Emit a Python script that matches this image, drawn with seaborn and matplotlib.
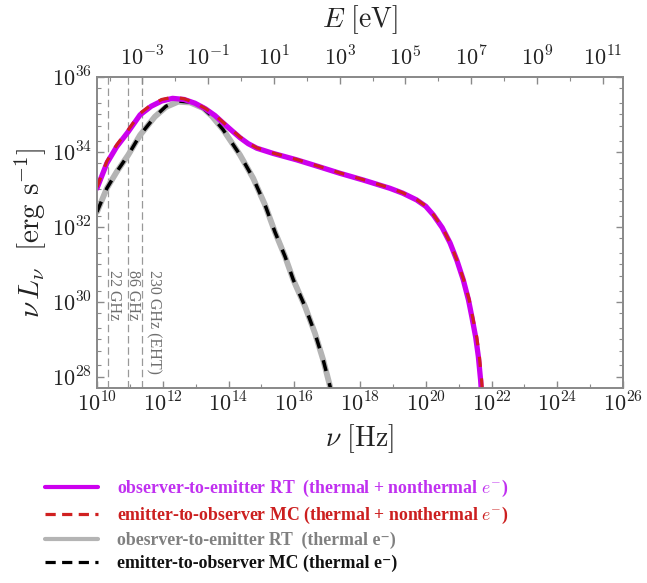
import numpy as np
import pandas as pd
import matplotlib
matplotlib.use("Agg")
import matplotlib.pyplot as plt
import seaborn as sns
from matplotlib.ticker import FixedLocator, FuncFormatter, NullFormatter
from matplotlib.lines import Line2D

# ---------------- data (log10 values) ----------------
# thermal + nonthermal, observer-to-emitter RT
tn_rt_lognu = [10.00, 10.30, 10.60, 10.95, 11.31, 11.65, 11.97, 12.30, 12.65, 12.98,
               13.30, 13.59, 13.84, 14.10, 14.35, 14.60, 14.86, 15.36, 16.07, 16.70,
               17.39, 18.10, 18.91, 19.30, 19.72, 20.00, 20.23, 20.50, 20.74, 20.95,
               21.14, 21.30, 21.40, 21.52, 21.60, 21.67, 21.70]
tn_rt_logL = [33.03, 33.70, 34.14, 34.54, 34.99, 35.22, 35.36, 35.43, 35.40, 35.30,
              35.15, 34.97, 34.77, 34.57, 34.38, 34.22, 34.10, 33.96, 33.79, 33.62,
              33.43, 33.25, 33.03, 32.90, 32.72, 32.55, 32.32, 31.98, 31.57, 31.10,
              30.59, 30.05, 29.61, 29.05, 28.54, 27.90, 27.50]
# thermal + nonthermal, emitter-to-observer MC
tn_mc_lognu = [10.00, 10.30, 10.60, 10.95, 11.31, 11.65, 11.97, 12.30, 12.65, 12.98,
               13.30, 13.59, 13.84, 14.10, 14.35, 14.60, 14.86, 15.36, 16.07, 16.70,
               17.39, 18.10, 18.91, 19.30, 19.72, 20.00, 20.23, 20.50, 20.74, 20.95,
               21.15, 21.32, 21.42, 21.55, 21.63, 21.70, 21.73]
tn_mc_logL = [33.06, 33.75, 34.19, 34.59, 35.03, 35.26, 35.40, 35.46, 35.42, 35.31,
              35.16, 34.98, 34.79, 34.59, 34.40, 34.24, 34.11, 33.97, 33.80, 33.63,
              33.44, 33.26, 33.04, 32.91, 32.73, 32.56, 32.33, 31.99, 31.58, 31.11,
              30.60, 30.06, 29.62, 29.06, 28.55, 27.90, 27.50]
# thermal only, observer-to-emitter RT
th_rt_lognu = [10.00, 10.30, 10.60, 10.95, 11.31, 11.76, 12.10, 12.47, 12.83, 13.23,
               13.50, 13.84, 14.35, 14.75, 15.11, 15.41, 15.72, 15.97, 16.33, 16.63,
               16.88, 17.09, 17.15]
th_rt_logL = [32.40, 33.03, 33.47, 33.92, 34.45, 34.94, 35.20, 35.34, 35.32, 35.17,
              34.95, 34.59, 33.92, 33.30, 32.59, 31.87, 31.21, 30.59, 29.87, 29.16,
              28.45, 27.74, 27.50]
# thermal only, emitter-to-observer MC
th_mc_lognu = [10.00, 10.30, 10.60, 10.95, 11.31, 11.76, 12.10, 12.47, 12.83, 13.23,
               13.50, 13.84, 14.35, 14.75, 15.11, 15.41, 15.72, 15.97, 16.33, 16.63,
               16.88, 17.09, 17.15]
th_mc_logL = [32.40, 33.03, 33.47, 33.92, 34.45, 34.94, 35.22, 35.36, 35.33, 35.17,
              34.95, 34.59, 33.92, 33.30, 32.59, 31.87, 31.21, 30.59, 29.87, 29.16,
              28.45, 27.74, 27.50]

vline_freqs = [22e9, 86e9, 230e9]
vline_labels = ["22 GHz", "86 GHz", "230 GHz (EHT)"]

legend_labels = [
    "observer-to-emitter RT  (thermal + nonthermal $e^{-}$)",
    "emitter-to-observer MC (thermal + nonthermal $e^{-}$)",
    "obesrver-to-emitter RT  (thermal e\u207b)",
    "emitter-to-observer MC (thermal e\u207b)",
]

bottom_ticks = [10, 12, 14, 16, 18, 20, 22, 24, 26]
left_ticks = [28, 30, 32, 34, 36]
top_ticks = [-3, -1, 1, 3, 5, 7, 9, 11]

H_EV = 4.135667e-15  # eV / Hz

# ---------------- style ----------------
sns.set_theme(style="white")
plt.rcParams["font.family"] = ["Liberation Serif", "DejaVu Serif"]
plt.rcParams["mathtext.fontset"] = "cm"

MAGENTA = "#cc00ee"
RED = "#d02020"
GRAY = "#b4b4b4"
FRAME = "#8a8a8a"

fig = plt.figure(figsize=(6.47, 5.83), dpi=100)
ax = fig.add_axes([97 / 647, 1 - 388 / 583, (623 - 97) / 647, (388 - 77) / 583])

def df_of(lx, ly):
    return pd.DataFrame({"nu": 10 ** np.array(lx), "L": 10 ** np.array(ly)})

sns.lineplot(data=df_of(th_rt_lognu, th_rt_logL), x="nu", y="L", ax=ax,
             color=GRAY, linewidth=4.2, sort=False, zorder=2)
sns.lineplot(data=df_of(th_mc_lognu, th_mc_logL), x="nu", y="L", ax=ax,
             color="black", linewidth=2.5, sort=False, zorder=3)
ax.lines[-1].set_dashes((3.2, 3.6))
sns.lineplot(data=df_of(tn_rt_lognu, tn_rt_logL), x="nu", y="L", ax=ax,
             color=MAGENTA, linewidth=3.8, sort=False, zorder=4)
sns.lineplot(data=df_of(tn_mc_lognu, tn_mc_logL), x="nu", y="L", ax=ax,
             color=RED, linewidth=2.3, sort=False, zorder=5)
ax.lines[-1].set_dashes((3.2, 3.6))

ax.set_xscale("log")
ax.set_yscale("log")
ax.set_xlim(1e10, 1e26)
ax.set_ylim(10 ** 27.7, 1e36)

# vertical reference lines
for f, lab, m in zip(vline_freqs, vline_labels, [1.5, 1.4, 2.3]):
    ax.axvline(f, color="#999999", linewidth=0.9, linestyle=(0, (6, 3)), zorder=1)
    ax.text(f * m, 10 ** 30.85, lab, rotation=-90, ha="center", va="top",
            fontsize=11.5, color="#6f6f6f", zorder=1)

# ticks
fmt = FuncFormatter(lambda v, p: r"$10^{%d}$" % int(round(np.log10(v))))
ax.xaxis.set_major_locator(FixedLocator([10.0 ** k for k in bottom_ticks]))
ax.xaxis.set_minor_locator(FixedLocator([10.0 ** k for k in range(11, 26, 2)]))
ax.xaxis.set_major_formatter(fmt)
ax.xaxis.set_minor_formatter(NullFormatter())
ax.yaxis.set_major_locator(FixedLocator([10.0 ** k for k in left_ticks]))
ymin_t = []
for k in range(27, 36):
    for s in (1, 2, 5):
        if s == 1 and k % 2 == 0:
            continue
        ymin_t.append(s * 10.0 ** k)
ax.yaxis.set_minor_locator(FixedLocator(ymin_t))
ax.yaxis.set_major_formatter(fmt)
ax.yaxis.set_minor_formatter(NullFormatter())
ax.tick_params(which="both", direction="in", colors=FRAME, labelcolor="#222222",
               labelsize=16, top=False, right=True, left=True, bottom=True)
ax.tick_params(which="major", length=5, width=1)
ax.tick_params(which="minor", length=3, width=0.8)
for sp in ax.spines.values():
    sp.set_color(FRAME)
    sp.set_linewidth(1.3)

ax.set_xlabel(r"$\nu\ [\mathrm{Hz}]$", fontsize=20, color="#222222", labelpad=4)
ax.set_ylabel(r"$\nu\, L_{\nu}\ \ [\mathrm{erg\ s^{-1}}]$", fontsize=21,
              color="#222222", labelpad=2)

# top energy axis
ax2 = ax.twiny()
ax2.set_xscale("log")
ax2.set_xlim(1e10 * H_EV, 1e26 * H_EV)
ax2.xaxis.set_major_locator(FixedLocator([10.0 ** k for k in top_ticks]))
ax2.xaxis.set_minor_locator(FixedLocator([10.0 ** k for k in range(-4, 12, 2)]))
ax2.xaxis.set_major_formatter(fmt)
ax2.xaxis.set_minor_formatter(NullFormatter())
ax2.tick_params(which="both", direction="in", colors=FRAME, labelcolor="#222222",
                labelsize=16, pad=5)
ax2.tick_params(which="major", length=5, width=1)
ax2.tick_params(which="minor", length=3, width=0.8)
for sp in ax2.spines.values():
    sp.set_color(FRAME)
    sp.set_linewidth(1.3)
ax2.set_xlabel(r"$E\ [\mathrm{eV}]$", fontsize=20, color="#222222", labelpad=14)

# legend
handles = [
    Line2D([], [], color=MAGENTA, linewidth=3.0),
    Line2D([], [], color=RED, linewidth=2.3, dashes=(3.2, 2.0)),
    Line2D([], [], color=GRAY, linewidth=3.0),
    Line2D([], [], color="black", linewidth=2.3, dashes=(3.2, 2.0)),
]
leg = fig.legend(handles, legend_labels, loc="upper left",
                 bbox_to_anchor=(45 / 647, 1 - 478 / 583), frameon=False,
                 borderpad=0, borderaxespad=0, handlelength=3.0, handletextpad=1.05,
                 labelspacing=0.33,
                 prop={"family": ["Liberation Serif", "DejaVu Serif"],
                       "weight": "bold", "size": 12.8})
for t, c in zip(leg.get_texts(), ["#c030f0", "#cc1f1f", "#808080", "#111111"]):
    t.set_color(c)

fig.savefig("out.png", dpi=100)
